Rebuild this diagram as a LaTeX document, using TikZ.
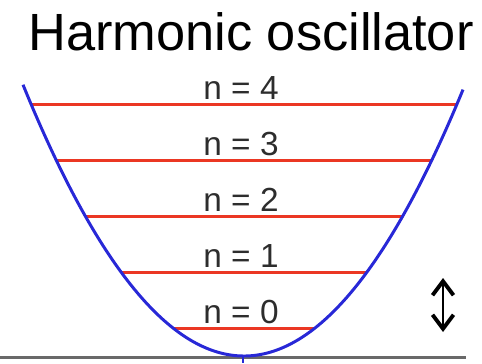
\documentclass[tikz,border=0pt]{standalone}
\usepackage{fontspec}
\setmainfont{Liberation Sans}
\usepackage{tikz}
\usetikzlibrary{arrows.meta,positioning}
\definecolor{wellblue}{RGB}{40,40,215}
\definecolor{levelred}{RGB}{235,55,35}
\definecolor{groundgrey}{RGB}{105,105,105}
\definecolor{labelgrey}{RGB}{45,45,45}

\begin{document}
\begin{tikzpicture}[x=0.02cm, y=-0.02cm,
    well/.style={draw=wellblue, line width=1.7pt},
    level/.style={draw=levelred, line width=1.7pt},
    lab/.style={anchor=base, text=labelgrey, font=\fontsize{19}{22}\selectfont, inner sep=0pt},
    ttl/.style={anchor=base, font=\fontsize{29.8}{34}\selectfont, inner sep=0pt},
    darr/.style={{Straight Barb[length=2.8mm, width=4.2mm, line width=2.2pt]}-{Straight Barb[length=2.8mm, width=4.2mm, line width=2.2pt]}, line width=0.6pt}
]
    \useasboundingbox (0,0) rectangle (482,363);

    % ---- Title ----
    \node[ttl] (title) at (251,50) {Harmonic oscillator};

    % ---- Ground line ----
    \coordinate (g0) at (0,357);
    \coordinate (g1) at (466,357);
    \draw[draw=groundgrey, line width=1.7pt] (g0) -- (g1);

    % ---- Energy levels (equally spaced) ----
    \coordinate (a0) at (173,328); \coordinate (b0) at (315,328);
    \coordinate (a1) at (121,272); \coordinate (b1) at (367,272);
    \coordinate (a2) at (85,216);  \coordinate (b2) at (403,216);
    \coordinate (a3) at (56,160);  \coordinate (b3) at (432,160);
    \coordinate (a4) at (31,104);  \coordinate (b4) at (457,104);
    \draw[level] (a0) -- (b0);
    \draw[level] (a1) -- (b1);
    \draw[level] (a2) -- (b2);
    \draw[level] (a3) -- (b3);
    \draw[level] (a4) -- (b4);

    \node[lab] (n0) at (241,323) {n = 0};
    \node[lab] (n1) at (241,267) {n = 1};
    \node[lab] (n2) at (241,211) {n = 2};
    \node[lab] (n3) at (241,155) {n = 3};
    \node[lab] (n4) at (241,99)  {n = 4};

    % ---- Potential well ----
    \draw[well] plot[domain=23:463, samples=80, smooth] (\x,{356-0.00555*(\x-244)*(\x-244)});
    \coordinate (v0) at (243,356);
    \coordinate (v1) at (243,363);
    \draw[draw=wellblue, line width=0.8pt] (v0) -- (v1);

    % ---- Spacing arrow ----
    \coordinate (s0) at (443,278);
    \coordinate (s1) at (443,332);
    \draw[darr] (s0) -- (s1);
\end{tikzpicture}
\end{document}
